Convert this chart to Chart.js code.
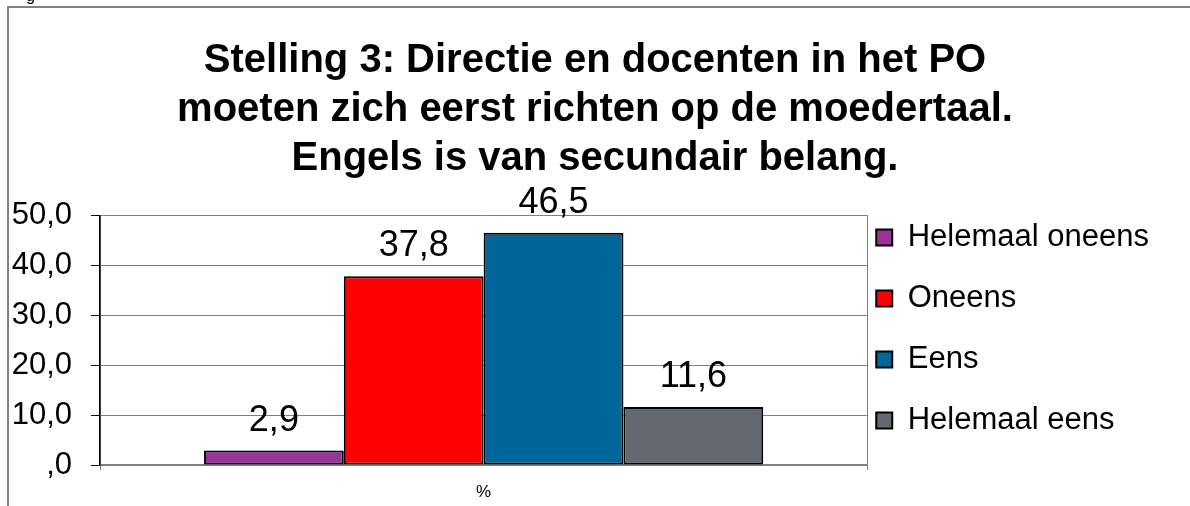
<!DOCTYPE html>
<html>
<head>
<meta charset="utf-8">
<script src="https://cdn.jsdelivr.net/npm/chart.js@4/dist/chart.umd.min.js"></script>
<style>
  body { margin: 0; background: #fff; }
  #wrap { position: relative; width: 1190px; height: 506px; overflow: hidden; }
  #frame { position: absolute; left: 7px; top: 6px; right: -10px; bottom: -10px;
           border-top: 2px solid #808080; border-left: 2px solid #808080; }
  #stub { position: absolute; left: 26px; top: -13px; font: 16px "Liberation Sans", Arial, sans-serif; }
  canvas { position: absolute; left: 0; top: 0; }
</style>
</head>
<body>
<div id="wrap">
  <div id="frame"></div>
  <div id="stub">g</div>
  <canvas id="myChart" width="1190" height="506"></canvas>
</div>
<script>
const FONT = '"Liberation Sans", Arial, sans-serif';

const categories = ['%'];
const seriesNames = ['Helemaal oneens', 'Oneens', 'Eens', 'Helemaal eens'];
const seriesValues = [2.9, 37.8, 46.5, 11.6];
const seriesColors = ['#993399', '#ff0000', '#006699', '#646870'];
const titleLines = [
    'Stelling 3: Directie en docenten in het PO',
    'moeten zich eerst richten op de moedertaal.',
    'Engels is van secundair belang.'
];
const yTicks = [0, 10, 20, 30, 40, 50];

function dutch(v) {
    if (v === 0) return ',0';
    return v.toFixed(1).replace('.', ',');
}

// values above each bar
const barLabels = {
    id: 'barLabels',
    afterDatasetsDraw(chart) {
        const ctx = chart.ctx;
        ctx.save();
        ctx.font = '36px ' + FONT;
        ctx.fillStyle = '#000';
        ctx.textAlign = 'center';
        ctx.textBaseline = 'alphabetic';
        chart.data.datasets.forEach((ds, i) => {
            const bar = chart.getDatasetMeta(i).data[0];
            ctx.fillText(dutch(ds.data[0]), bar.x, bar.y - 20);
        });
        ctx.restore();
    }
};

// move the legend next to the plot like the original
const legendSpot = {
    id: 'legendSpot',
    afterLayout(chart) {
        const lg = chart.legend;
        const w = lg.right - lg.left;
        lg.left = chart.chartArea.right - 21;
        lg.right = lg.left + w;
        lg.top = 192;
        lg.bottom = 506;
    }
};

const ctx = document.getElementById('myChart').getContext('2d');

const myChart = new Chart(ctx, {
    type: 'bar',
    data: {
        labels: categories,
        datasets: seriesNames.map((name, i) => ({
            label: name,
            data: [seriesValues[i]],
            backgroundColor: seriesColors[i],
            borderColor: '#000',
            borderWidth: 2,
            borderSkipped: false,
            categoryPercentage: 0.729,
            barPercentage: 1
        }))
    },
    options: {
        responsive: false,
        animation: false,
        layout: { padding: { left: 10, right: 10, top: 0, bottom: 0 } },
        plugins: {
            title: {
                display: true,
                text: titleLines,
                color: '#000',
                font: { family: FONT, size: 40, weight: 'bold', lineHeight: 1.22 },
                padding: { top: 37, bottom: 32 }
            },
            legend: {
                position: 'right',
                align: 'start',
                fullSize: true,
                maxWidth: 316,
                labels: {
                    color: '#000',
                    font: { family: FONT, size: 31 },
                    boxWidth: 16,
                    boxHeight: 16,
                    padding: 30
                }
            },
            tooltip: { enabled: false }
        },
        scales: {
            x: {
                grid: { offset: true, color: '#808080', tickLength: 5, lineWidth: 1 },
                border: { color: '#808080', width: 1.5 },
                ticks: { color: '#000', font: { family: FONT, size: 17 }, padding: 12 },
                afterFit(scale) { scale.height = 41; }
            },
            y: {
                min: 0,
                max: 50,
                afterBuildTicks(scale) { scale.ticks = yTicks.map(v => ({ value: v })); },
                grid: { color: '#808080', tickColor: '#000', tickLength: 9, lineWidth: 1 },
                border: { color: '#000', width: 1.5 },
                ticks: {
                    color: '#000',
                    font: { family: FONT, size: 31 },
                    padding: 19,
                    callback: (v) => dutch(v)
                },
                afterFit(scale) { scale.width = 90; }
            }
        }
    },
    plugins: [barLabels, legendSpot]
});
</script>
</body>
</html>
